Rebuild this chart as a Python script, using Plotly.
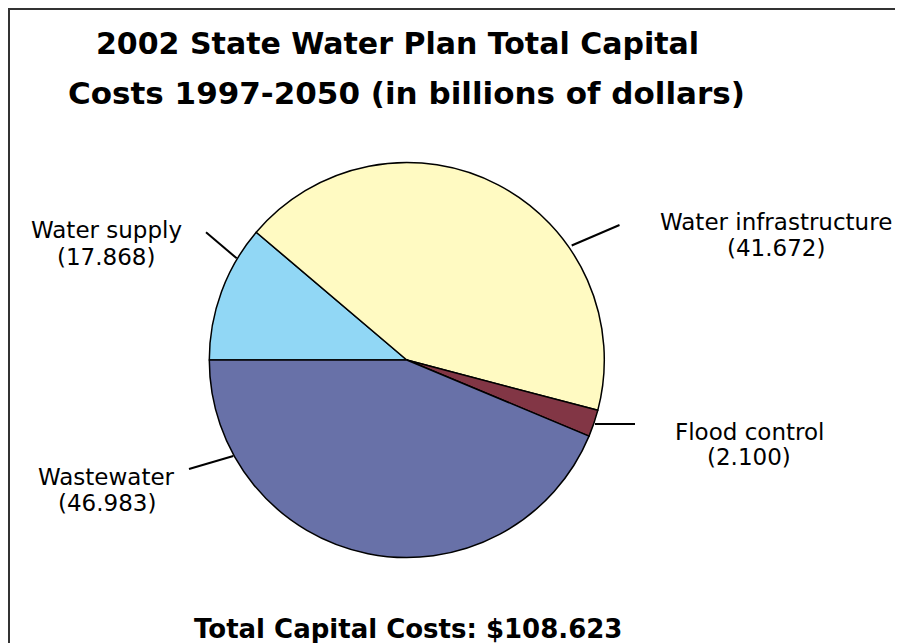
import plotly.graph_objects as go

# ---- data ----
categories = ["Water supply", "Water infrastructure", "Flood control", "Wastewater"]
label_values = ["17.868", "41.672", "2.100", "46.983"]          # billions, as printed in labels
slice_share_pct = [11.2, 42.9, 2.2, 43.7]                       # slice sizes as drawn in the picture
colors = ["#91D7F5", "#FFFAC2", "#823645", "#6871A8"]
total_text = "Total Capital Costs: $108.623"
title_lines = ["2002 State Water Plan Total Capital",
               "Costs 1997-2050 (in billions of dollars)"]

# the page body adds an 8px margin, so the figure is drawn 8px in from the corner
OFF = 8
W, H = 903 - OFF, 643 - OFF


def px(x, y):
    """window pixel position -> paper coordinates"""
    return (x - OFF) / W, 1 - (y - OFF) / H


cx0, cy0, rad = 406.8, 360.0, 197.5
dx0, dy0 = px(cx0 - rad, cy0 + rad)
dx1, dy1 = px(cx0 + rad, cy0 - rad)

fig = go.Figure(go.Pie(
    labels=categories,
    values=slice_share_pct,
    sort=False,
    direction="clockwise",
    rotation=270,
    marker=dict(colors=colors, line=dict(color="black", width=1.5)),
    textinfo="none",
    hoverinfo="label",
    showlegend=False,
    domain=dict(x=[dx0, dx1], y=[dy0, dy1]),
))

ann = []
# title
for text, (cx, cy), fs in zip(title_lines, [(397.5, 44), (406.7, 93)], [30, 31]):
    x, y = px(cx, cy)
    ann.append(dict(text="<b>%s</b>" % text, x=x, y=y, xref="paper", yref="paper",
                    xanchor="center", yanchor="middle", showarrow=False,
                    font=dict(family="DejaVu Sans", size=fs, color="black")))

# slice labels (two lines each)
label_pos = [(106, 230, 257), (775.5, 221.6, 248.3), (749.3, 431.6, 457), (106.5, 477.3, 503.3)]
for name, val, (cx, y1, y2) in zip(categories, label_values, label_pos):
    for t, cy in [(name, y1), ("(%s)" % val, y2)]:
        x, y = px(cx, cy)
        ann.append(dict(text=t, x=x, y=y, xref="paper", yref="paper",
                        xanchor="center", yanchor="middle", showarrow=False,
                        font=dict(family="DejaVu Sans", size=23, color="black")))

# total
x, y = px(408, 629)
ann.append(dict(text="<b>%s</b>" % total_text, x=x, y=y, xref="paper", yref="paper",
                xanchor="center", yanchor="middle", showarrow=False,
                font=dict(family="DejaVu Sans", size=26, color="black")))

shapes = []
# leader lines
leaders = [((206, 232.3), (236.7, 258.3)),
           ((571.7, 245.5), (619.5, 225)),
           ((595, 424), (635, 424)),
           ((189, 469), (233.3, 456))]
for (xa, ya), (xb, yb) in leaders:
    x0, y0 = px(xa, ya)
    x1, y1 = px(xb, yb)
    shapes.append(dict(type="line", xref="paper", yref="paper", x0=x0, y0=y0, x1=x1, y1=y1,
                       line=dict(color="black", width=2)))

# outer frame
x0, y1 = px(9, 9)
shapes.append(dict(type="rect", xref="paper", yref="paper", x0=x0, y0=-0.05, x1=1.05, y1=y1,
                   line=dict(color="#333333", width=2), fillcolor="rgba(0,0,0,0)"))

fig.update_layout(
    width=W, height=H,
    margin=dict(l=0, r=0, t=0, b=0),
    paper_bgcolor="white", plot_bgcolor="white",
    annotations=ann, shapes=shapes,
)

fig.write_html("out.html")
